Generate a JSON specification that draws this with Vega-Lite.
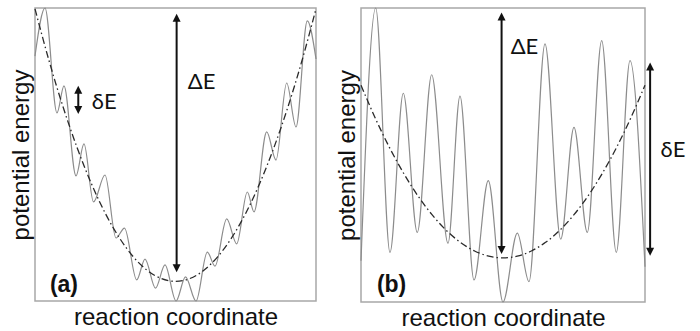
{
  "$schema": "https://vega.github.io/schema/vega-lite/v6.json",
  "background": "white",
  "padding": {"left": 8, "top": 4, "right": 0, "bottom": 0},
  "spacing": 14,
  "config": {
    "view": {"stroke": "#a8a8a8", "strokeWidth": 1.5},
    "axis": {"domain": false, "ticks": false, "labels": false, "grid": false, "titleFont": "Liberation Sans", "titleFontSize": 24, "titleFontWeight": "normal", "titleColor": "#111111"},
    "axisX": {"titlePadding": 4},
    "axisY": {"titlePadding": 2}
  },
  "datasets": {
    "curveA": [{"x":0,"y":83.6},{"x":3.56,"y":100},{"x":7.83,"y":64.2},{"x":10.32,"y":73.4},{"x":14.59,"y":42.7},{"x":17.44,"y":53.6},{"x":20.82,"y":33.8},{"x":24.91,"y":43.0},{"x":28.83,"y":21.5},{"x":31.85,"y":24.9},{"x":36.19,"y":7.2},{"x":39.15,"y":14.3},{"x":42.88,"y":4.4},{"x":46.26,"y":12.3},{"x":50.18,"y":0},{"x":53.56,"y":8.2},{"x":57.3,"y":0},{"x":61.32,"y":16.7},{"x":64.06,"y":11.9},{"x":68.22,"y":28.0},{"x":71.78,"y":19.5},{"x":75.55,"y":37.2},{"x":77.94,"y":30.4},{"x":82.46,"y":57.7},{"x":85.77,"y":48.1},{"x":89.57,"y":74.4},{"x":92.88,"y":59.4},{"x":96.9,"y":95.6},{"x":100,"y":82.6}],
    "parabA": [{"x":0,"y":99.7},{"x":5,"y":82.0},{"x":10,"y":66.2},{"x":15,"y":52.3},{"x":20,"y":40.2},{"x":25,"y":29.95},{"x":30,"y":21.6},{"x":35,"y":15.07},{"x":40,"y":10.42},{"x":45,"y":7.63},{"x":50,"y":6.7},{"x":55,"y":7.63},{"x":60,"y":10.42},{"x":65,"y":15.07},{"x":70,"y":21.6},{"x":75,"y":29.95},{"x":80,"y":40.2},{"x":85,"y":52.3},{"x":90,"y":66.2},{"x":95,"y":82.0},{"x":100,"y":99.7}],
    "rulesA": [{"x":50.4,"y":11.2,"y2":96.6},{"x":15.4,"y":65.2,"y2":72.1}],
    "headsA": [{"x":50.4,"y":98,"dir":"up"},{"x":50.4,"y":9.8,"dir":"down"},{"x":15.4,"y":73.5,"dir":"up"},{"x":15.4,"y":63.8,"dir":"down"}],
    "labelsA": [{"x":54.4,"y":72.4,"t":"ΔE"},{"x":20.2,"y":65.5,"t":"δE"}],
    "tagA": [{"x":5.3,"y":3.1,"t":"(a)"}],
    "curveB": [{"x":0,"y":14.0},{"x":5.18,"y":100},{"x":10.21,"y":16.9},{"x":14.89,"y":71.0},{"x":19.82,"y":23.7},{"x":24.89,"y":77.3},{"x":30.63,"y":20.0},{"x":34.86,"y":70.0},{"x":39.79,"y":7.5},{"x":44.82,"y":41.3},{"x":50.0,"y":0},{"x":55.04,"y":23.4},{"x":59.15,"y":6.9},{"x":64.79,"y":87.8},{"x":70.32,"y":21.4},{"x":75.0,"y":59.4},{"x":79.68,"y":23.7},{"x":84.75,"y":88.9},{"x":89.89,"y":16.9},{"x":94.72,"y":82.1},{"x":100,"y":12.0}],
    "parabB": [{"x":0,"y":73.75},{"x":5,"y":62.6},{"x":10,"y":52.6},{"x":15,"y":43.8},{"x":20,"y":36.15},{"x":25,"y":29.7},{"x":30,"y":24.4},{"x":35,"y":20.29},{"x":40,"y":17.35},{"x":45,"y":15.59},{"x":50,"y":15},{"x":55,"y":15.59},{"x":60,"y":17.35},{"x":65,"y":20.29},{"x":70,"y":24.4},{"x":75,"y":29.7},{"x":80,"y":36.15},{"x":85,"y":43.8},{"x":90,"y":52.6},{"x":95,"y":62.6},{"x":100,"y":73.75}],
    "rulesB": [{"x":49.5,"y":17.7,"y2":97.1},{"x":101.8,"y":17.1,"y2":80.1}],
    "headsB": [{"x":49.5,"y":98.5,"dir":"up"},{"x":49.5,"y":16.3,"dir":"down"},{"x":101.8,"y":81.5,"dir":"up"},{"x":101.8,"y":15.7,"dir":"down"}],
    "labelsB": [{"x":52.7,"y":84.4,"t":"ΔE"},{"x":105.5,"y":49.2,"t":"δE"}],
    "tagB": [{"x":5.6,"y":3.4,"t":"(b)"}]
  },
  "hconcat": [
    {
      "width": 281,
      "height": 293,
      "encoding": {
        "x": {"field": "x", "type": "quantitative", "scale": {"domain": [0, 100], "nice": false, "zero": false}, "axis": {"title": "reaction coordinate"}},
        "y": {"field": "y", "type": "quantitative", "scale": {"domain": [0, 100], "nice": false, "zero": false}, "axis": {"title": "potential energy"}}
      },
      "layer": [
        {"data": {"name": "curveA"}, "mark": {"type": "line", "interpolate": "monotone", "color": "#8c8c8c", "strokeWidth": 1.2}},
        {"data": {"name": "parabA"}, "mark": {"type": "line", "interpolate": "monotone", "color": "#2a2a2a", "strokeWidth": 1.3, "strokeDash": [7, 3, 1.5, 3]}},
        {"data": {"name": "rulesA"}, "mark": {"type": "rule", "color": "#111111", "strokeWidth": 2}, "encoding": {"y2": {"field": "y2"}}},
        {"data": {"name": "headsA"}, "mark": {"type": "point", "filled": true, "opacity": 1, "size": 64, "color": "#111111", "strokeWidth": 0}, "encoding": {"shape": {"field": "dir", "type": "nominal", "scale": {"domain": ["up", "down"], "range": ["M0,0L-1,2L1,2Z", "M0,0L-1,-2L1,-2Z"]}, "legend": null}}},
        {"data": {"name": "labelsA"}, "mark": {"type": "text", "align": "left", "baseline": "alphabetic", "font": "Lato", "fontSize": 22, "color": "#111111"}, "encoding": {"text": {"field": "t"}}},
        {"data": {"name": "tagA"}, "mark": {"type": "text", "align": "left", "baseline": "alphabetic", "font": "Liberation Sans", "fontWeight": "bold", "fontSize": 23, "color": "#111111"}, "encoding": {"text": {"field": "t"}}}
      ]
    },
    {
      "width": 284,
      "height": 294,
      "encoding": {
        "x": {"field": "x", "type": "quantitative", "scale": {"domain": [0, 100], "nice": false, "zero": false}, "axis": {"title": "reaction coordinate"}},
        "y": {"field": "y", "type": "quantitative", "scale": {"domain": [0, 100], "nice": false, "zero": false}, "axis": {"title": "potential energy"}}
      },
      "layer": [
        {"data": {"name": "curveB"}, "mark": {"type": "line", "interpolate": "monotone", "color": "#8c8c8c", "strokeWidth": 1.2}},
        {"data": {"name": "parabB"}, "mark": {"type": "line", "interpolate": "monotone", "color": "#2a2a2a", "strokeWidth": 1.3, "strokeDash": [7, 3, 1.5, 3]}},
        {"data": {"name": "rulesB"}, "mark": {"type": "rule", "color": "#111111", "strokeWidth": 2}, "encoding": {"y2": {"field": "y2"}}},
        {"data": {"name": "headsB"}, "mark": {"type": "point", "filled": true, "opacity": 1, "size": 64, "color": "#111111", "strokeWidth": 0}, "encoding": {"shape": {"field": "dir", "type": "nominal", "scale": {"domain": ["up", "down"], "range": ["M0,0L-1,2L1,2Z", "M0,0L-1,-2L1,-2Z"]}, "legend": null}}},
        {"data": {"name": "labelsB"}, "mark": {"type": "text", "align": "left", "baseline": "alphabetic", "font": "Lato", "fontSize": 22, "color": "#111111"}, "encoding": {"text": {"field": "t"}}},
        {"data": {"name": "tagB"}, "mark": {"type": "text", "align": "left", "baseline": "alphabetic", "font": "Liberation Sans", "fontWeight": "bold", "fontSize": 23, "color": "#111111"}, "encoding": {"text": {"field": "t"}}}
      ]
    }
  ]
}
